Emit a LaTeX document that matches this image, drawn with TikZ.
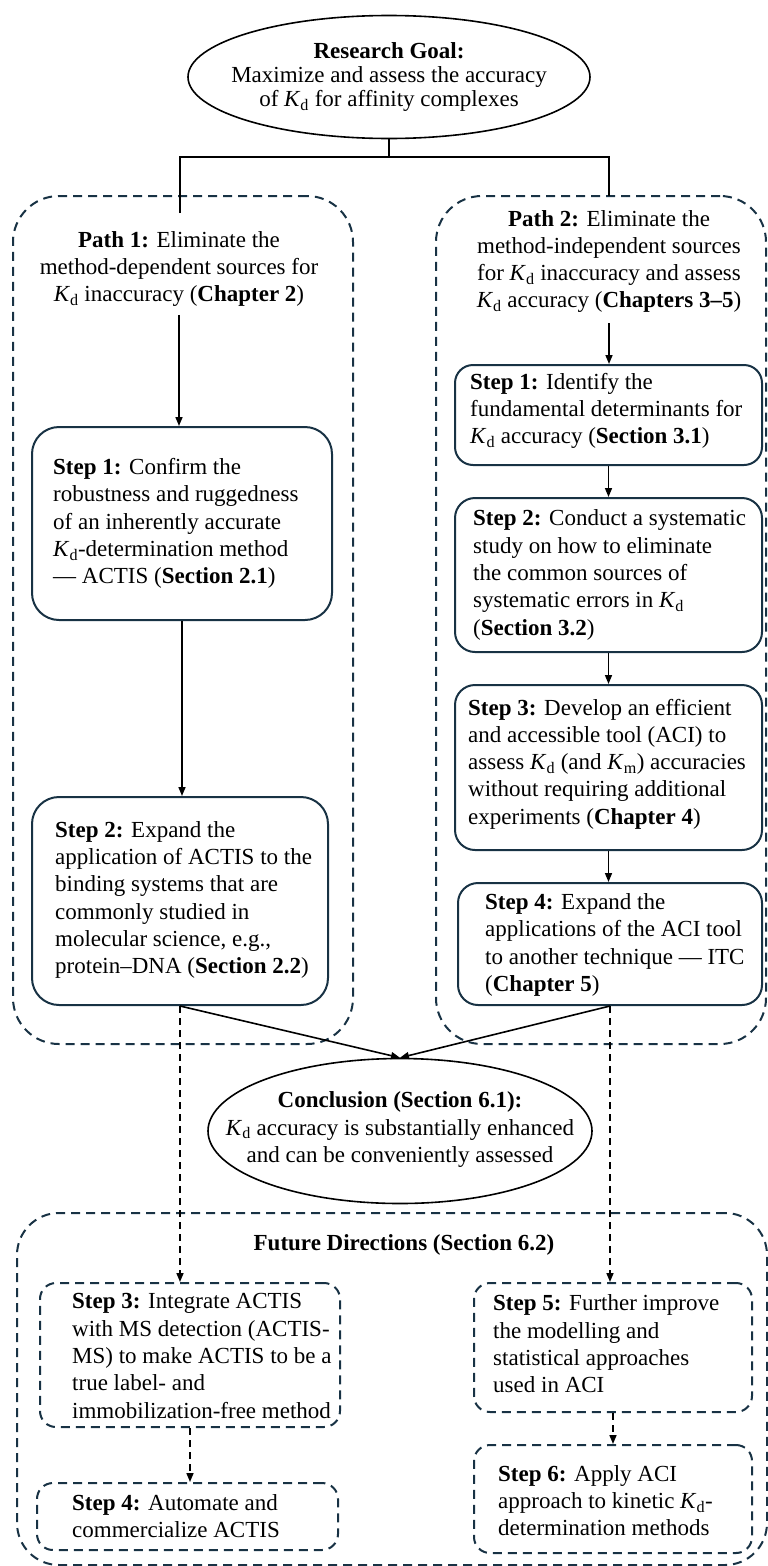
\documentclass[tikz,border=0pt]{standalone}
\usepackage{fontspec}
\setmainfont{Liberation Serif}
\usetikzlibrary{arrows.meta,shapes.geometric}
\definecolor{navy}{RGB}{24,50,68}
\newcommand{\Kd}{\textit{K}\textsubscript{d}}
\newcommand{\Km}{\textit{K}\textsubscript{m}}
\begin{document}
\begin{tikzpicture}[x=1pt,y=-1pt,
  txt/.style={font=\fontsize{23}{27.3}\selectfont, inner sep=0pt, align=left},
  ctxt/.style={txt, align=center},
  solidbox/.style={draw=navy, line width=2pt, rounded corners=#1, inner sep=0pt},
  solidbox/.default=20pt,
  dashbox/.style={draw=navy, line width=2pt, dash pattern=on 9pt off 6pt, rounded corners=#1, inner sep=0pt},
  dashbox/.default=18pt,
  oval/.style={draw=black, ellipse, line width=1.6pt, inner sep=0pt},
  plain/.style={draw=black, line width=1.8pt},
  conn/.style={draw=black, line width=1.6pt, -{Triangle[length=9pt,width=7pt]}},
  dconn/.style={conn, dash pattern=on 7pt off 5pt}
]
\useasboundingbox (0,0) rectangle (768,1566);

% ---- Research goal
\node[oval, minimum width=402pt, minimum height=123pt] (goal) at (389,77) {};
\node[ctxt, font=\fontsize{23}{24}\selectfont] (goalt) at (goal.center)
  {\textbf{Research Goal:}\\Maximize and assess the accuracy\\of \Kd{} for affinity complexes};

% ---- Path containers
\node[dashbox=46pt, minimum width=340pt, minimum height=848pt] (p1) at (183,620) {};
\node[dashbox=46pt, minimum width=330pt, minimum height=848pt] (p2) at (601,620) {};
\node[ctxt] (p1t) at (179,269)
  {\textbf{Path 1:} Eliminate the\\method-dependent sources for\\\Kd{} inaccuracy (\textbf{Chapter 2})};
\node[ctxt] (p2t) at (609,261.5)
  {\textbf{Path 2:} Eliminate the\\method-independent sources\\for \Kd{} inaccuracy and assess\\\Kd{} accuracy (\textbf{Chapters 3–5})};

% ---- Path 1 steps
\node[solidbox=27pt, minimum width=300pt, minimum height=193pt] (ls1) at (182,523.5) {};
\node[txt, anchor=west] (ls1t) at (53,523.5)
  {\textbf{Step 1:} Confirm the\\robustness and ruggedness\\of an inherently accurate\\\Kd-determination method\\— ACTIS (\textbf{Section 2.1})};
\node[solidbox=27pt, minimum width=296pt, minimum height=208pt] (ls2) at (180,901) {};
\node[txt, anchor=west] (ls2t) at (55,900)
  {\textbf{Step 2:} Expand the\\application of ACTIS to the\\binding systems that are\\commonly studied in\\molecular science, e.g.,\\protein–DNA (\textbf{Section 2.2})};

% ---- Path 2 steps
\node[solidbox=18pt, minimum width=307pt, minimum height=100pt] (rs1) at (608.5,415) {};
\node[txt, anchor=west] (rs1t) at (470,411)
  {\textbf{Step 1:} Identify the\\fundamental determinants for\\\Kd{} accuracy (\textbf{Section 3.1})};
\node[solidbox=20pt, minimum width=307pt, minimum height=154pt] (rs2) at (608.5,575) {};
\node[txt, anchor=west] (rs2t) at (473,575)
  {\textbf{Step 2:} Conduct a systematic\\study on how to eliminate\\the common sources of\\systematic errors in \Kd\\(\textbf{Section 3.2})};
\node[solidbox=20pt, minimum width=307pt, minimum height=165pt] (rs3) at (608.5,767.5) {};
\node[txt, anchor=west] (rs3t) at (468,764)
  {\textbf{Step 3:} Develop an efficient\\and accessible tool (ACI) to\\assess \Kd{} (and \Km) accuracies\\without requiring additional\\experiments (\textbf{Chapter 4})};
\node[solidbox=20pt, minimum width=304pt, minimum height=122pt] (rs4) at (610,944) {};
\node[txt, anchor=west] (rs4t) at (485,945)
  {\textbf{Step 4:} Expand the\\applications of the ACI tool\\to another technique — ITC\\(\textbf{Chapter 5})};

% ---- Conclusion
\node[oval, minimum width=384pt, minimum height=145pt] (concl) at (400,1131) {};
\node[ctxt] (conclt) at (400,1129.5)
  {\textbf{Conclusion (Section 6.1):}\\\Kd{} accuracy is substantially enhanced\\and can be conveniently assessed};

% ---- Future directions
\node[dashbox=42pt, minimum width=750pt, minimum height=352pt] (fut) at (392,1389) {};
\node[ctxt] (futt) at (404,1245) {\textbf{Future Directions (Section 6.2)}};
\node[dashbox=16pt, minimum width=300pt, minimum height=144pt] (fs3) at (190,1355) {};
\node[txt, anchor=west] (fs3t) at (72,1356)
  {\textbf{Step 3:} Integrate ACTIS\\with MS detection (ACTIS-\\MS) to make ACTIS to be a\\true label- and\\immobilization-free method};
\node[dashbox=16pt, minimum width=301pt, minimum height=67pt] (fs4) at (187.5,1516.5) {};
\node[txt, anchor=west] (fs4t) at (72,1516)
  {\textbf{Step 4:} Automate and\\commercialize ACTIS};
\node[dashbox=16pt, minimum width=278pt, minimum height=129pt] (fs5) at (613,1347.5) {};
\node[txt, anchor=west] (fs5t) at (493,1344)
  {\textbf{Step 5:} Further improve\\the modelling and\\statistical approaches\\used in ACI};
\node[dashbox=16pt, minimum width=278pt, minimum height=108pt] (fs6) at (613,1499) {};
\node[txt, anchor=west] (fs6t) at (498,1500.5)
  {\textbf{Step 6:} Apply ACI\\approach to kinetic \Kd-\\determination methods};

% ---- Connectors
\coordinate (split) at (389,157);
\coordinate (p1in) at (180,213);
\coordinate (p2in) at (609,196);
\draw[plain] (goal.south) -- (split);
\draw[plain] (p1in) |- (split) -| (p2in);

\draw[conn, shorten <=8pt] (p1t.south) -- (p1t.south |- ls1.north);
\draw[conn] (ls1.south) -- (ls1.south |- ls2.north);
\draw[conn, shorten <=10pt] (p2t.south) -- (p2t.south |- rs1.north);
\draw[conn] (rs1.south) -- (rs1.south |- rs2.north);
\draw[conn] (rs2.south) -- (rs2.south |- rs3.north);
\draw[conn] (rs3.south) -- (rs3.south |- rs4.north);

\draw[conn] (ls2.south) -- (concl.north);
\draw[conn] (rs4.south) -- (concl.north);

\draw[dconn] (ls2.south) -- (ls2.south |- fs3.north);
\draw[dconn] (rs4.south) -- (rs4.south |- fs5.north);
\draw[dconn] (fs3.south) -- (fs3.south |- fs4.north);
\draw[dconn] (fs5.south) -- (fs5.south |- fs6.north);
\end{tikzpicture}
\end{document}
